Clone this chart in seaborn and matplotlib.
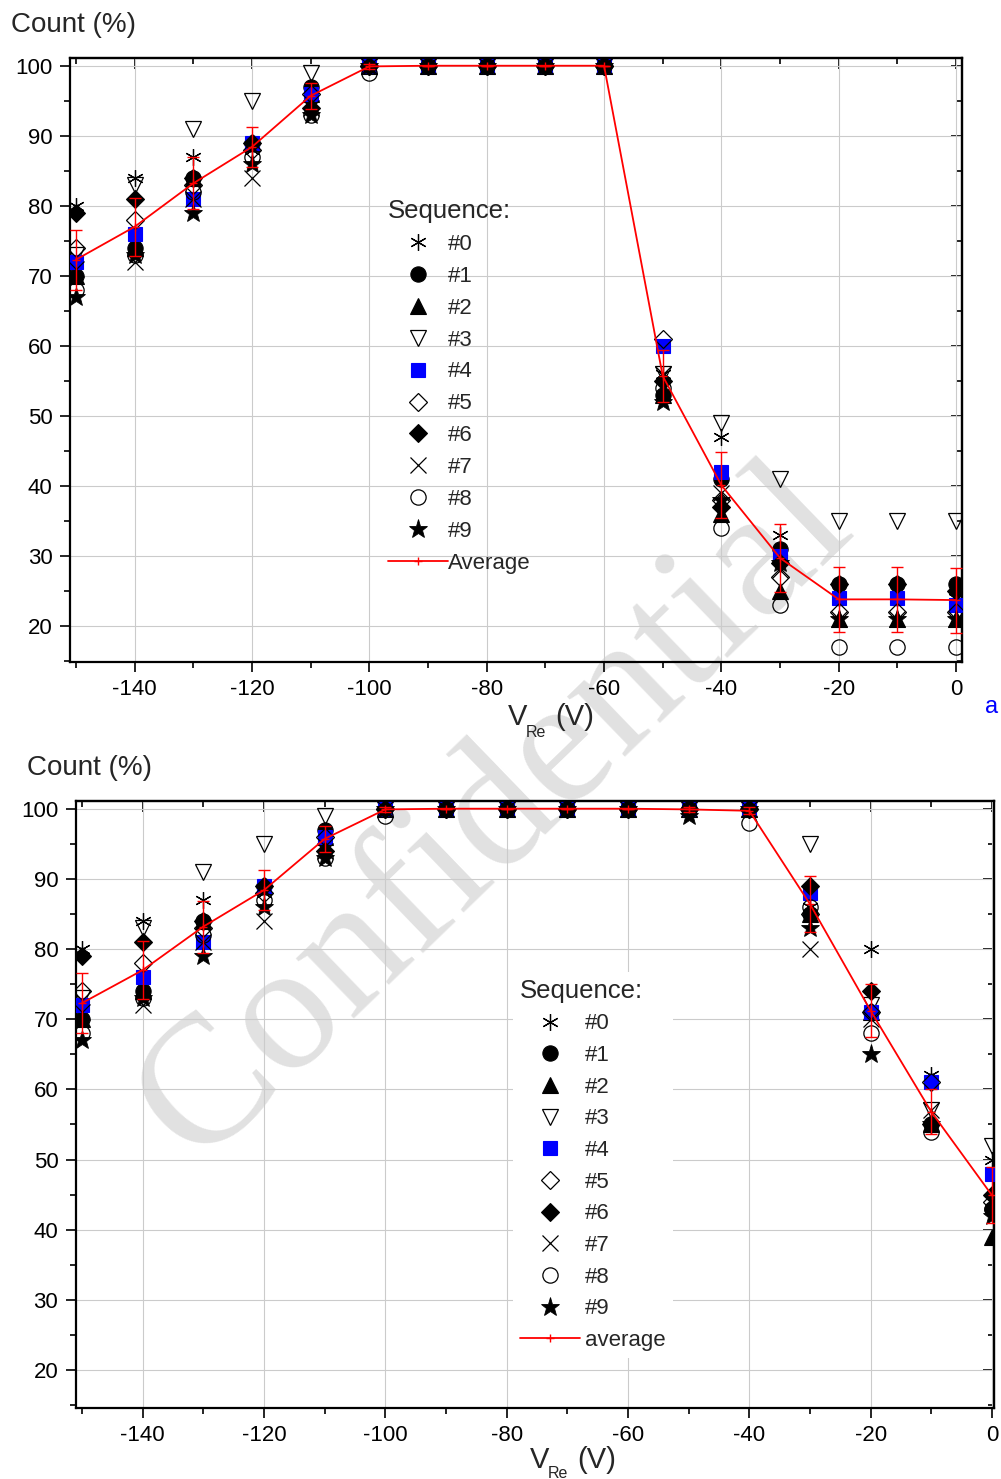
import matplotlib
matplotlib.use("Agg")
import matplotlib.pyplot as plt
import seaborn as sns
from matplotlib.lines import Line2D
from matplotlib.ticker import MultipleLocator

# ---------------- data ----------------
x_values = [-150, -140, -130, -120, -110, -100, -90, -80, -70, -60, -50, -40, -30, -20, -10, 0]
seq_labels = ["#0", "#1", "#2", "#3", "#4", "#5", "#6", "#7", "#8", "#9"]

# panel (a): top
top_s0 = [80, 84, 87, 88, 96, 100, 100, 100, 100, 100, 56, 47, 33, 24, 24, 24]
top_s1 = [70, 74, 84, 89, 97, 100, 100, 100, 100, 100, 53, 41, 31, 26, 26, 26]
top_s2 = [70, 74, 84, 89, 96, 100, 100, 100, 100, 100, 53, 36, 25, 21, 21, 21]
top_s3 = [73, 83, 91, 95, 99, 100, 100, 100, 100, 100, 56, 49, 41, 35, 35, 35]
top_s4 = [72, 76, 81, 89, 96, 100, 100, 100, 100, 100, 60, 42, 30, 24, 24, 23]
top_s5 = [74, 78, 83, 88, 96, 100, 100, 100, 100, 100, 61, 38, 27, 22, 22, 22]
top_s6 = [79, 81, 84, 89, 94, 100, 100, 100, 100, 100, 55, 37, 29, 26, 26, 25]
top_s7 = [71, 72, 81, 84, 94, 100, 100, 100, 100, 100, 56, 39, 28, 21, 21, 21]
top_s8 = [68, 73, 82, 87, 93, 99, 100, 100, 100, 100, 54, 34, 23, 17, 17, 17]
top_s9 = [67, 73, 79, 86, 93, 100, 100, 100, 100, 100, 52, 38, 29, 21, 21, 21]
top_avg = [72.3, 77.0, 83.2, 88.4, 95.7, 99.9, 100, 100, 100, 100, 55.7, 40.1, 29.7, 23.8, 23.8, 23.7]
top_err = [4.3, 4.1, 3.7, 2.9, 1.9, 0.3, 0, 0, 0, 0, 3.7, 4.7, 4.85, 4.65, 4.65, 4.65]

# panel (b): bottom
bot_s0 = [80, 84, 87, 88, 96, 100, 100, 100, 100, 100, 100, 100, 86, 80, 62, 50]
bot_s1 = [70, 74, 84, 89, 97, 100, 100, 100, 100, 100, 100, 100, 85, 71, 55, 43]
bot_s2 = [70, 74, 84, 89, 96, 100, 100, 100, 100, 100, 100, 100, 85, 71, 55, 39]
bot_s3 = [73, 83, 91, 95, 99, 100, 100, 100, 100, 100, 100, 100, 95, 72, 57, 52]
bot_s4 = [72, 76, 81, 89, 96, 100, 100, 100, 100, 100, 100, 100, 88, 71, 61, 48]
bot_s5 = [74, 78, 83, 88, 96, 100, 100, 100, 100, 100, 100, 100, 85, 71, 61, 44]
bot_s6 = [79, 81, 84, 89, 94, 100, 100, 100, 100, 100, 100, 100, 89, 74, 55, 45]
bot_s7 = [71, 72, 81, 84, 94, 100, 100, 100, 100, 100, 100, 100, 80, 70, 57, 44]
bot_s8 = [68, 73, 82, 87, 93, 99, 100, 100, 100, 100, 100, 98, 86, 68, 54, 43]
bot_s9 = [67, 73, 79, 86, 93, 100, 100, 100, 100, 100, 99, 100, 83, 65, 55, 42]
bot_avg = [72.3, 77.0, 83.2, 88.4, 95.7, 99.9, 100, 100, 100, 100, 99.9, 99.7, 86.4, 71.2, 56.8, 44.9]
bot_err = [4.3, 4.1, 3.7, 2.9, 1.9, 0.3, 0, 0, 0, 0, 0.3, 0.5, 4.0, 3.8, 3.2, 4.0]

top_series = [top_s0, top_s1, top_s2, top_s3, top_s4, top_s5, top_s6, top_s7, top_s8, top_s9]
bot_series = [bot_s0, bot_s1, bot_s2, bot_s3, bot_s4, bot_s5, bot_s6, bot_s7, bot_s8, bot_s9]

# ---------------- styles ----------------
STYLES = [
    dict(marker=(6, 2, 0), ms=12, mfc="black", mec="black", mew=0.9),
    dict(marker="o", ms=11, mfc="black", mec="black", mew=0.8),
    dict(marker="^", ms=11, mfc="black", mec="black", mew=0.8),
    dict(marker="v", ms=11, mfc="none", mec="black", mew=0.9),
    dict(marker="s", ms=10, mfc="#0000ff", mec="#0000ff", mew=0.8),
    dict(marker="D", ms=9, mfc="none", mec="black", mew=0.9),
    dict(marker="D", ms=9, mfc="black", mec="black", mew=0.8),
    dict(marker="x", ms=11, mfc="black", mec="black", mew=0.9),
    dict(marker="o", ms=11, mfc="none", mec="black", mew=0.9),
    dict(marker="*", ms=14, mfc="black", mec="black", mew=0.6),
]

sns.set_theme(style="white")
plt.rcParams["font.family"] = ["Liberation Sans", "DejaVu Sans"]
plt.rcParams["axes.unicode_minus"] = False

W, H = 1001, 1479
fig = plt.figure(figsize=(W / 100, H / 100), dpi=100)


def fx(x):
    return x / W


def fy(y):
    return 1 - y / H


ax_top = fig.add_axes([fx(70), fy(661.7), 892 / W, 603.4 / H])
ax_bot = fig.add_axes([fx(75.7), fy(1408), 918.3 / W, 607.3 / H])


def draw_panel(ax, series, avg, err, avg_label, xlim, ylim):
    ax.set_facecolor("none")
    ax.set_axisbelow(True)
    for i, (ys, st) in enumerate(zip(series, STYLES)):
        sns.lineplot(x=x_values, y=ys, ax=ax, linestyle="", marker=st["marker"],
                     ms=st["ms"], mfc=st["mfc"], mec=st["mec"], mew=st["mew"],
                     color=st["mec"], errorbar=None, sort=False, zorder=3 + i * 0.01)
    ax.errorbar(x_values, avg, yerr=err, fmt="none", ecolor="red", elinewidth=1.0,
                capsize=4.5, capthick=1.0, zorder=5)
    sns.lineplot(x=x_values, y=avg, ax=ax, color="red", lw=1.3, marker="+", ms=6,
                 mec="red", mew=1.0, errorbar=None, sort=False, zorder=6)
    ax.set_xlim(*xlim)
    ax.set_ylim(*ylim)
    ax.set_xlabel("")
    ax.set_ylabel("")
    ax.grid(True, which="major", color="#cbcbcb", lw=0.8)
    ax.xaxis.set_major_locator(MultipleLocator(20))
    ax.xaxis.set_minor_locator(MultipleLocator(10))
    ax.yaxis.set_major_locator(MultipleLocator(10))
    ax.yaxis.set_minor_locator(MultipleLocator(5))
    ax.tick_params(which="both", direction="out", top=False, right=False, bottom=True,
                   left=True, width=1.2, colors="black", labelsize=16, pad=5)
    ax.tick_params(which="major", length=7.5)
    ax.tick_params(which="minor", length=4)
    for sp in ax.spines.values():
        sp.set_linewidth(1.6)
        sp.set_color("black")
    secx = ax.secondary_xaxis("top")
    secx.xaxis.set_major_locator(MultipleLocator(20))
    secx.xaxis.set_minor_locator(MultipleLocator(10))
    secx.tick_params(which="both", direction="in", labeltop=False, width=1.2, colors="black")
    secx.tick_params(which="major", length=8)
    secx.tick_params(which="minor", length=4.5)
    secx.spines["top"].set_linewidth(1.6)
    secy = ax.secondary_yaxis("right")
    secy.yaxis.set_major_locator(MultipleLocator(10))
    secy.yaxis.set_minor_locator(MultipleLocator(5))
    secy.tick_params(which="both", direction="in", labelright=False, width=1.2, colors="black")
    secy.tick_params(which="major", length=8)
    secy.tick_params(which="minor", length=4.5)
    secy.spines["right"].set_linewidth(1.6)

    handles = []
    for st, lab in zip(STYLES, seq_labels):
        handles.append(Line2D([], [], linestyle="", marker=st["marker"], ms=st["ms"],
                              mfc=st["mfc"], mec=st["mec"], mew=st["mew"], label=lab))
    handles.append(Line2D([], [], color="red", lw=1.3, marker="+", ms=6, mec="red",
                          mew=1.0, label=avg_label))
    return handles


h_top = draw_panel(ax_top, top_series, top_avg, top_err, "Average",
                   (-151.0, 1.0), (14.9, 101.06))
h_bot = draw_panel(ax_bot, bot_series, bot_avg, bot_err, "average",
                   (-151.04, 0.33), (14.6, 101.14))

leg_top = ax_top.legend(handles=h_top, title="Sequence:", loc="upper left",
                        bbox_to_anchor=(fx(388), fy(199)), bbox_transform=fig.transFigure,
                        frameon=False, fontsize=16, title_fontsize=18.5, numpoints=1,
                        handlelength=2.7, handletextpad=0.0, labelspacing=0.49,
                        borderpad=0, borderaxespad=0, alignment="left")
leg_top.set_zorder(10)

leg_bot = ax_bot.legend(handles=h_bot, title="Sequence:", loc="upper left",
                        bbox_to_anchor=(fx(513), fy(972)), bbox_transform=fig.transFigure,
                        frameon=True, fancybox=False, fontsize=16, title_fontsize=18.5,
                        numpoints=1, handlelength=2.7, handletextpad=0.25, labelspacing=0.48,
                        borderpad=0.3, borderaxespad=0, alignment="left")
leg_bot.get_frame().set_facecolor("white")
leg_bot.get_frame().set_edgecolor("none")
leg_bot.get_frame().set_alpha(1)
leg_bot.set_zorder(10)

# axis titles
fig.text(fx(11), fy(32), "Count (%)", fontsize=20, ha="left", va="baseline")
fig.text(fx(27), fy(775), "Count (%)", fontsize=20, ha="left", va="baseline")

fig.text(fx(508), fy(725), "V", fontsize=21, ha="left", va="baseline")
fig.text(fx(526), fy(737), "Re", fontsize=11.5, ha="left", va="baseline")
fig.text(fx(555), fy(725), "(V)", fontsize=21, ha="left", va="baseline")

fig.text(fx(530), fy(1468), "V", fontsize=21, ha="left", va="baseline")
fig.text(fx(548), fy(1478), "Re", fontsize=11.5, ha="left", va="baseline")
fig.text(fx(577), fy(1468), "(V)", fontsize=21, ha="left", va="baseline")

fig.text(fx(985), fy(713), "a", fontsize=17, color="#0000ff", ha="left", va="baseline")

# watermark
fig.text(fx(495), fy(815), "Confidential", fontsize=132, family="Liberation Serif",
         rotation=44, color="#808080", alpha=0.24, ha="center", va="center",
         rotation_mode="anchor", zorder=-5)

fig.savefig("out.png", dpi=100)
